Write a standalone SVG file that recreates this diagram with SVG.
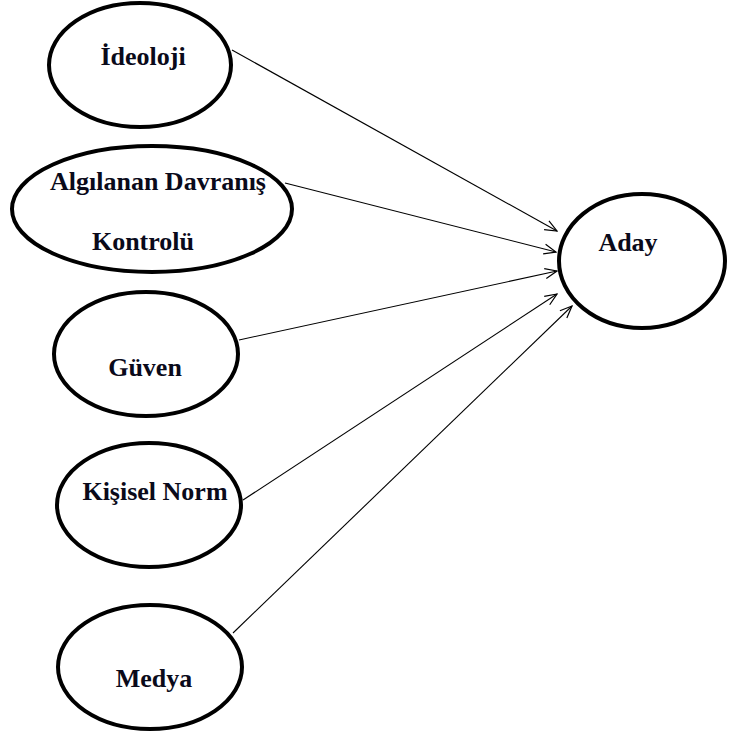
<svg xmlns="http://www.w3.org/2000/svg" width="729" height="736" viewBox="0 0 729 736">
<defs>
<style>
.node ellipse{fill:#fff;stroke:#000;stroke-width:4}
.node text{font-family:"Liberation Serif","Times New Roman",serif;font-weight:bold;font-size:26px;fill:#0a0a1a;text-anchor:middle}
.conn line{stroke:#000;stroke-width:1.1;fill:none;marker-end:url(#ah)}
</style>
<marker id="ah" viewBox="0 0 14 12" refX="13" refY="6" markerWidth="14" markerHeight="12" markerUnits="userSpaceOnUse" orient="auto">
<path d="M1,1 L13,6 L1,11" fill="none" stroke="#000" stroke-width="1.2"/>
</marker>
</defs>
<rect width="729" height="736" fill="#fff"/>
<g id="connectors" class="conn">
<line x1="232" y1="50" x2="557" y2="231"/>
<line x1="285" y1="183" x2="556" y2="252"/>
<line x1="239" y1="340" x2="557" y2="271"/>
<line x1="243" y1="500" x2="557" y2="294"/>
<line x1="233" y1="633" x2="572" y2="306"/>
</g>
<g id="ideoloji" class="node">
<ellipse cx="140" cy="65" rx="91" ry="62"/>
<text x="143" y="65">İdeoloji</text>
</g>
<g id="algilanan" class="node">
<ellipse cx="152" cy="209" rx="140" ry="63"/>
<text x="158" y="190">Algılanan Davranış</text>
<text x="143" y="250">Kontrolü</text>
</g>
<g id="guven" class="node">
<ellipse cx="146" cy="354" rx="92" ry="62"/>
<text x="145" y="376">Güven</text>
</g>
<g id="kisisel" class="node">
<ellipse cx="149" cy="505" rx="92" ry="62"/>
<text x="155" y="500">Kişisel Norm</text>
</g>
<g id="medya" class="node">
<ellipse cx="150" cy="667" rx="92" ry="62"/>
<text x="154" y="687">Medya</text>
</g>
<g id="aday" class="node">
<ellipse cx="642" cy="261" rx="83" ry="67"/>
<text x="628" y="251">Aday</text>
</g>
</svg>
